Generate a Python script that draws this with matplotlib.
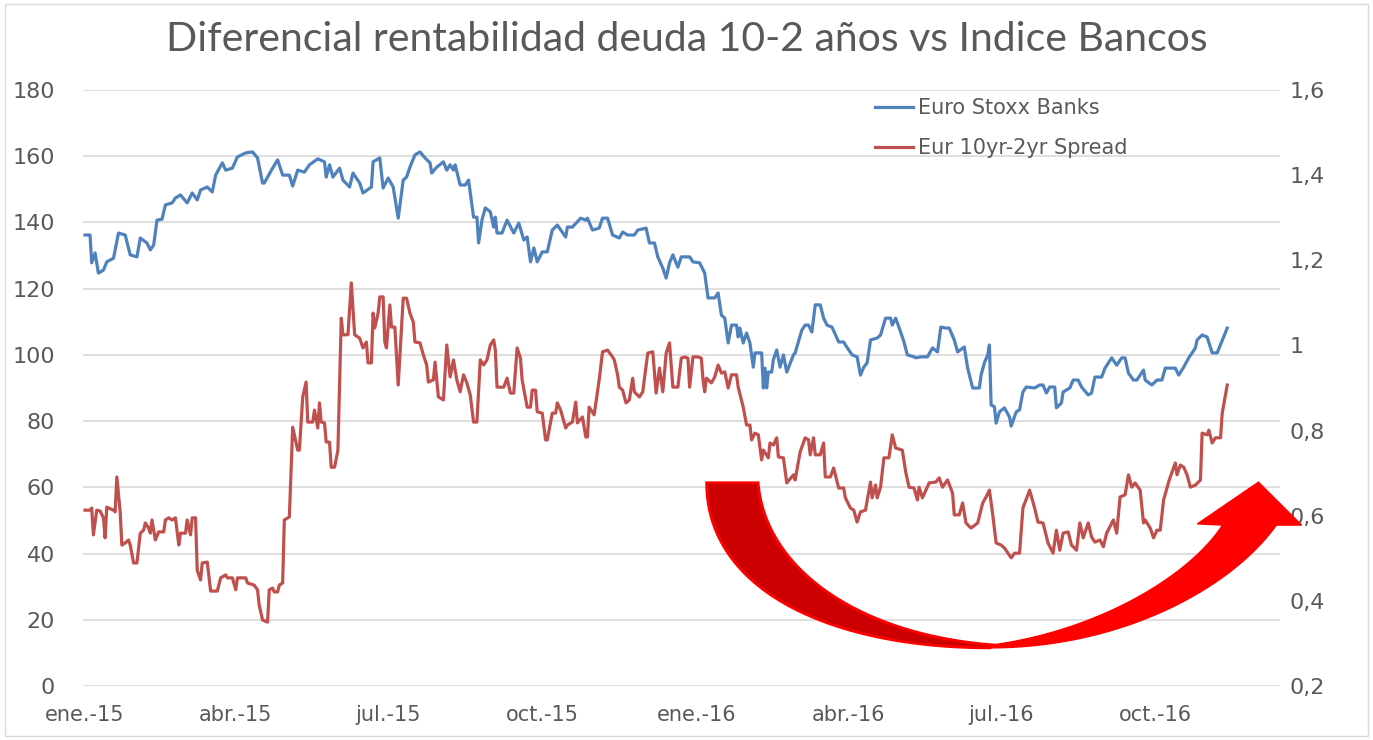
import datetime as dt
import numpy as np
import matplotlib
matplotlib.use('Agg')
import matplotlib.pyplot as plt
import matplotlib.dates as mdates
from matplotlib.patches import Polygon, Rectangle

# ---- data ----
title = 'Diferencial rentabilidad deuda 10-2 años vs Indice Bancos'
label_banks = 'Euro Stoxx Banks'
label_spread = 'Eur 10yr-2yr Spread'

start = dt.date(2015, 1, 1)
tick_months = [(2015, 1), (2015, 4), (2015, 7), (2015, 10),
               (2016, 1), (2016, 4), (2016, 7), (2016, 10)]
tick_labels = ['ene.-15', 'abr.-15', 'jul.-15', 'oct.-15',
               'ene.-16', 'abr.-16', 'jul.-16', 'oct.-16']
left_ticks = [0, 20, 40, 60, 80, 100, 120, 140, 160, 180]
right_ticks = [0.2, 0.4, 0.6, 0.8, 1.0, 1.2, 1.4, 1.6]
right_labels = ['0,2', '0,4', '0,6', '0,8', '1', '1,2', '1,4', '1,6']

# days since 1 Jan 2015
banks_day = [0, 3, 4, 6, 8, 11, 13, 17, 20, 24,
             27, 31, 33, 37, 39, 41, 43, 46, 48, 52,
             54, 57, 61, 64, 67, 69, 73, 76, 78, 82,
             84, 88, 91, 96, 100, 103, 106, 107, 109, 112,
             115, 118, 122, 124, 127, 131, 134, 139, 143, 144,
             146, 148, 152, 154, 158, 160, 164, 166, 171, 172,
             176, 178, 181, 184, 187, 190, 192, 194, 197, 200,
             203, 206, 207, 210, 214, 216, 218, 220, 221, 224,
             227, 229, 232, 234, 235, 237, 239, 242, 244, 245,
             246, 249, 252, 256, 259, 262, 264, 266, 268, 270,
             273, 276, 279, 282, 287, 288, 291, 296, 299, 300,
             303, 307, 309, 312, 315, 319, 321, 324, 328, 330,
             335, 337, 340, 342, 345, 347, 349, 351, 354, 356,
             361, 363, 367, 370, 372, 376, 378, 380, 382, 384,
             386, 389, 390, 391, 393, 395, 397, 399, 400, 404,
             405, 406, 407, 408, 410, 411, 413, 415, 417, 419,
             423, 424, 428, 430, 432, 434, 436, 439, 441, 443,
             446, 450, 453, 454, 458, 461, 463, 465, 467, 469,
             473, 475, 478, 481, 482, 484, 487, 489, 491, 495,
             496, 499, 503, 506, 509, 511, 514, 516, 519, 521,
             525, 527, 530, 534, 535, 537, 539, 540, 541, 543,
             544, 546, 549, 552, 553, 556, 558, 560, 562, 567,
             570, 572, 574, 576, 579, 580, 583, 584, 588, 590,
             593, 595, 599, 601, 603, 607, 609, 613, 616, 619,
             621, 623, 626, 628, 632, 633, 637, 640, 643, 645,
             651, 653, 656, 659, 663, 664, 667, 670, 673, 676,
             682]
banks_val = [136.2, 136.2, 127.8, 130.8, 124.7, 125.6, 128.1, 129.2, 136.8, 136.2,
             130.2, 129.6, 135.3, 133.8, 131.7, 133.2, 140.7, 141.0, 145.3, 145.9,
             147.4, 148.3, 145.9, 148.9, 146.8, 149.8, 150.7, 149.2, 154.3, 158.0,
             155.8, 156.4, 159.8, 161.0, 161.3, 159.5, 151.9, 151.9, 153.7, 156.4,
             158.9, 154.3, 154.3, 151.0, 155.8, 155.2, 157.4, 159.2, 158.3, 153.7,
             157.4, 153.7, 156.4, 152.8, 150.7, 154.9, 151.9, 148.9, 150.7, 158.3,
             159.5, 150.4, 153.4, 150.7, 141.3, 152.8, 153.7, 156.7, 160.4, 161.3,
             159.5, 158.0, 154.9, 156.7, 158.3, 155.8, 157.4, 155.8, 157.4, 151.3,
             151.3, 152.8, 141.6, 141.6, 133.8, 140.7, 144.4, 143.2, 138.6, 141.6,
             136.8, 136.8, 140.7, 136.8, 139.8, 134.7, 135.6, 128.1, 132.3, 128.1,
             131.1, 131.1, 137.7, 139.2, 135.6, 138.6, 138.6, 141.3, 140.7, 141.3,
             137.7, 138.3, 141.3, 141.3, 136.2, 135.3, 137.1, 136.2, 136.2, 137.7,
             138.3, 133.8, 133.8, 129.6, 126.2, 123.2, 127.8, 130.2, 126.5, 129.6,
             129.6, 128.1, 127.8, 124.7, 117.2, 117.2, 118.7, 112.0, 111.1, 103.6,
             109.0, 109.0, 105.4, 108.1, 103.6, 106.6, 103.6, 96.3, 100.6, 100.6,
             90.0, 96.0, 90.0, 94.8, 94.8, 98.5, 101.5, 96.3, 100.0, 94.8,
             100.0, 100.6, 107.5, 109.0, 109.0, 106.9, 115.1, 115.1, 111.1, 109.0,
             108.4, 103.9, 103.9, 103.0, 100.0, 99.4, 93.9, 96.3, 97.6, 104.5,
             105.1, 106.0, 111.1, 111.1, 109.0, 111.1, 106.9, 103.9, 100.0, 99.4,
             99.1, 99.4, 99.4, 102.1, 100.9, 108.4, 108.1, 108.1, 104.5, 100.9,
             102.4, 96.0, 90.0, 90.0, 93.9, 97.6, 100.0, 103.0, 84.9, 84.3,
             79.4, 82.8, 84.0, 81.2, 78.5, 82.8, 83.4, 88.8, 90.3, 90.0,
             90.9, 90.9, 88.5, 90.3, 90.3, 84.0, 85.5, 88.8, 90.0, 92.4,
             92.4, 90.3, 87.9, 88.5, 93.3, 93.3, 96.0, 99.1, 96.9, 99.1,
             99.1, 94.5, 92.4, 92.4, 95.4, 92.4, 90.9, 92.4, 92.4, 96.0,
             96.0, 93.9, 96.3, 99.1, 102.1, 104.5, 106.0, 105.4, 100.6, 100.6,
             108.1]

spread_day = [0, 3, 4, 5, 7, 9, 11, 12, 13, 17,
              18, 19, 21, 22, 24, 26, 27, 29, 31, 33,
              35, 36, 38, 39, 40, 42, 44, 47, 48, 50,
              52, 54, 56, 57, 60, 61, 63, 64, 66, 67,
              69, 70, 73, 75, 79, 81, 84, 85, 88, 90,
              91, 96, 97, 101, 103, 104, 106, 109, 110, 112,
              113, 115, 116, 118, 119, 122, 124, 127, 128, 130,
              132, 133, 136, 137, 139, 140, 141, 143, 144, 146,
              147, 149, 151, 153, 154, 157, 159, 161, 164, 166,
              168, 169, 171, 172, 173, 175, 176, 178, 179, 180,
              182, 183, 185, 187, 190, 192, 194, 196, 197, 200,
              202, 204, 205, 208, 209, 211, 214, 216, 218, 220,
              222, 224, 226, 228, 230, 232, 234, 236, 238, 240,
              242, 244, 245, 246, 250, 252, 254, 256, 258, 260,
              261, 264, 266, 267, 269, 270, 273, 275, 276, 279,
              281, 282, 284, 287, 288, 291, 293, 294, 297, 299,
              300, 301, 304, 307, 309, 312, 315, 316, 318, 319,
              321, 323, 325, 327, 328, 331, 333, 336, 339, 341,
              343, 345, 347, 349, 351, 354, 356, 358, 360, 361,
              363, 366, 368, 369, 370, 371, 374, 376, 378, 380,
              382, 384, 386, 389, 390, 393, 395, 397, 398, 400,
              402, 404, 405, 408, 409, 411, 413, 414, 417, 419,
              423, 424, 427, 430, 432, 433, 435, 436, 439, 441,
              442, 445, 447, 450, 453, 454, 457, 459, 461, 463,
              466, 469, 470, 472, 473, 475, 477, 480, 482, 484,
              488, 490, 492, 495, 497, 498, 500, 504, 508, 510,
              512, 515, 518, 519, 522, 524, 526, 529, 533, 536,
              538, 540, 542, 544, 547, 549, 553, 555, 558, 560,
              564, 567, 569, 572, 575, 578, 580, 582, 584, 587,
              589, 592, 594, 596, 599, 601, 603, 606, 608, 610,
              614, 616, 618, 621, 623, 625, 627, 630, 632, 633,
              636, 638, 640, 642, 644, 647, 648, 651, 652, 654,
              656, 658, 660, 663, 666, 667, 670, 671, 673, 675,
              678, 679, 682]
spread_val = [0.613, 0.613, 0.618, 0.555, 0.613, 0.611, 0.595, 0.548, 0.620, 0.613,
              0.609, 0.691, 0.609, 0.531, 0.536, 0.543, 0.531, 0.489, 0.489, 0.559,
              0.566, 0.583, 0.571, 0.559, 0.590, 0.543, 0.562, 0.562, 0.590, 0.595,
              0.590, 0.595, 0.531, 0.559, 0.559, 0.590, 0.555, 0.595, 0.595, 0.472,
              0.449, 0.489, 0.491, 0.423, 0.423, 0.454, 0.461, 0.454, 0.454, 0.426,
              0.454, 0.454, 0.442, 0.437, 0.426, 0.390, 0.355, 0.350, 0.426, 0.430,
              0.421, 0.421, 0.437, 0.442, 0.590, 0.597, 0.808, 0.754, 0.754, 0.879,
              0.914, 0.820, 0.820, 0.848, 0.806, 0.865, 0.820, 0.818, 0.773, 0.773,
              0.714, 0.714, 0.754, 1.064, 1.025, 1.025, 1.147, 1.025, 1.017, 0.994,
              1.008, 0.959, 0.959, 1.076, 1.041, 1.076, 1.114, 1.114, 1.008, 0.994,
              1.095, 1.043, 1.043, 0.907, 1.111, 1.111, 1.076, 1.055, 1.008, 1.006,
              0.978, 0.954, 0.914, 0.919, 0.961, 0.879, 0.872, 1.001, 0.926, 0.966,
              0.919, 0.891, 0.931, 0.912, 0.884, 0.820, 0.820, 0.966, 0.954, 0.966,
              1.001, 1.013, 0.989, 0.902, 0.902, 0.923, 0.888, 0.888, 0.994, 0.970,
              0.919, 0.855, 0.855, 0.895, 0.895, 0.844, 0.841, 0.778, 0.778, 0.841,
              0.841, 0.865, 0.848, 0.806, 0.813, 0.820, 0.867, 0.818, 0.832, 0.785,
              0.785, 0.855, 0.837, 0.919, 0.985, 0.989, 0.973, 0.966, 0.931, 0.902,
              0.895, 0.865, 0.872, 0.923, 0.891, 0.879, 0.891, 0.982, 0.985, 0.888,
              0.947, 0.891, 0.982, 1.006, 0.902, 0.902, 0.970, 0.973, 0.970, 0.902,
              0.973, 0.973, 0.970, 0.919, 0.891, 0.923, 0.912, 0.926, 0.954, 0.935,
              0.938, 0.900, 0.931, 0.931, 0.902, 0.855, 0.813, 0.813, 0.778, 0.794,
              0.790, 0.731, 0.754, 0.736, 0.771, 0.766, 0.783, 0.738, 0.736, 0.677,
              0.696, 0.684, 0.750, 0.783, 0.778, 0.743, 0.783, 0.743, 0.743, 0.771,
              0.691, 0.691, 0.712, 0.665, 0.665, 0.642, 0.618, 0.613, 0.585, 0.609,
              0.613, 0.679, 0.642, 0.672, 0.642, 0.667, 0.736, 0.736, 0.790, 0.759,
              0.754, 0.703, 0.667, 0.665, 0.637, 0.667, 0.642, 0.677, 0.679, 0.689,
              0.667, 0.684, 0.653, 0.602, 0.602, 0.630, 0.583, 0.571, 0.583, 0.630,
              0.644, 0.660, 0.602, 0.536, 0.531, 0.524, 0.501, 0.512, 0.512, 0.618,
              0.660, 0.618, 0.585, 0.583, 0.536, 0.512, 0.566, 0.519, 0.559, 0.562,
              0.531, 0.519, 0.583, 0.548, 0.583, 0.550, 0.538, 0.543, 0.527, 0.559,
              0.590, 0.559, 0.644, 0.649, 0.696, 0.667, 0.677, 0.660, 0.583, 0.590,
              0.571, 0.548, 0.566, 0.566, 0.637, 0.679, 0.691, 0.724, 0.696, 0.719,
              0.714, 0.696, 0.667, 0.672, 0.684, 0.794, 0.790, 0.801, 0.771, 0.783,
              0.783, 0.841, 0.907]

# ---- figure ----
GREY = '#595959'
BLUE = '#4F81BD'
RED = '#C0504D'

fig = plt.figure(figsize=(13.73, 7.40), dpi=100)
ax = fig.add_axes([83 / 1373, 54 / 740, 1197 / 1373, 596 / 740])
ax2 = ax.twinx()

banks_x = [start + dt.timedelta(days=d) for d in banks_day]
spread_x = [start + dt.timedelta(days=d) for d in spread_day]

l1, = ax.plot(banks_x, banks_val, color=BLUE, lw=2.3, solid_joinstyle='round')
l2, = ax2.plot(spread_x, spread_val, color=RED, lw=2.3, solid_joinstyle='round')

x0 = mdates.date2num(start)
ax.set_xlim(x0 - 1.2, x0 + 713.5)
ax.set_ylim(0, 180)
ax2.set_ylim(0.2, 1.6)

ax.set_yticks(left_ticks)
ax.set_yticklabels([str(t) for t in left_ticks])
ax2.set_yticks(right_ticks)
ax2.set_yticklabels(right_labels)
ax.set_xticks([dt.date(y, m, 1) for y, m in tick_months])
ax.set_xticklabels(tick_labels)

ax.yaxis.grid(True, color='#D9D9D9', lw=1.2)
ax.set_axisbelow(True)
for a in (ax, ax2):
    for s in a.spines.values():
        s.set_visible(False)
ax.tick_params(axis='y', length=0, pad=20, labelsize=16, labelcolor=GREY)
ax.tick_params(axis='x', length=0, pad=14, labelsize=15, labelcolor=GREY)
ax2.tick_params(axis='y', length=0, pad=7, labelsize=16, labelcolor=GREY)

fig.text(0.5, 0.947, title, ha='center', va='center', fontsize=29.5,
         color=GREY, family=['Lato', 'DejaVu Sans'])

ax2.legend(handles=[l1, l2], labels=[label_banks, label_spread],
           loc='upper left', bbox_to_anchor=(0.653, 1.004), frameon=False,
           borderpad=0, handlelength=1.8, handletextpad=0.25,
           labelspacing=0.95, fontsize=15, labelcolor=GREY)


# ---- curved red arrow (annotation, axes-fraction coordinates) ----
def bez(p0, p1, p2, p3, n=60):
    t = np.linspace(0, 1, n)[:, None]
    p0, p1, p2, p3 = map(np.asarray, (p0, p1, p2, p3))
    return (1 - t) ** 3 * p0 + 3 * (1 - t) ** 2 * t * p1 + 3 * (1 - t) * t ** 2 * p2 + t ** 3 * p3


left_outer = bez((0.521, 0.341), (0.521, 0.161), (0.624, 0.064), (0.758, 0.064))
left_inner = bez((0.564, 0.341), (0.570, 0.195), (0.649, 0.086), (0.760, 0.069))
left_piece = np.vstack([left_outer, left_inner[::-1]])

right_outer = bez((0.758, 0.064), (0.866, 0.064), (0.958, 0.161), (0.997, 0.270))
head = np.array([(1.018, 0.270), (0.982, 0.342), (0.931, 0.272)])
right_inner = bez((0.952, 0.270), (0.925, 0.186), (0.850, 0.094), (0.760, 0.069))
right_piece = np.vstack([right_outer, head, right_inner])

ax2.add_patch(Polygon(left_piece, closed=True, transform=ax2.transAxes,
                      facecolor='#CC0000', edgecolor='#FF0000', lw=2,
                      clip_on=False, zorder=5))
ax2.add_patch(Polygon(right_piece, closed=True, transform=ax2.transAxes,
                      facecolor='#FF0000', edgecolor='#FF0000', lw=1,
                      clip_on=False, zorder=5))

# thin chart-area border
fig.patches.append(Rectangle((0.004, 0.005), 0.992, 0.99, transform=fig.transFigure,
                             fill=False, edgecolor='#D9D9D9', lw=1))

fig.savefig('out.png', dpi=100)
